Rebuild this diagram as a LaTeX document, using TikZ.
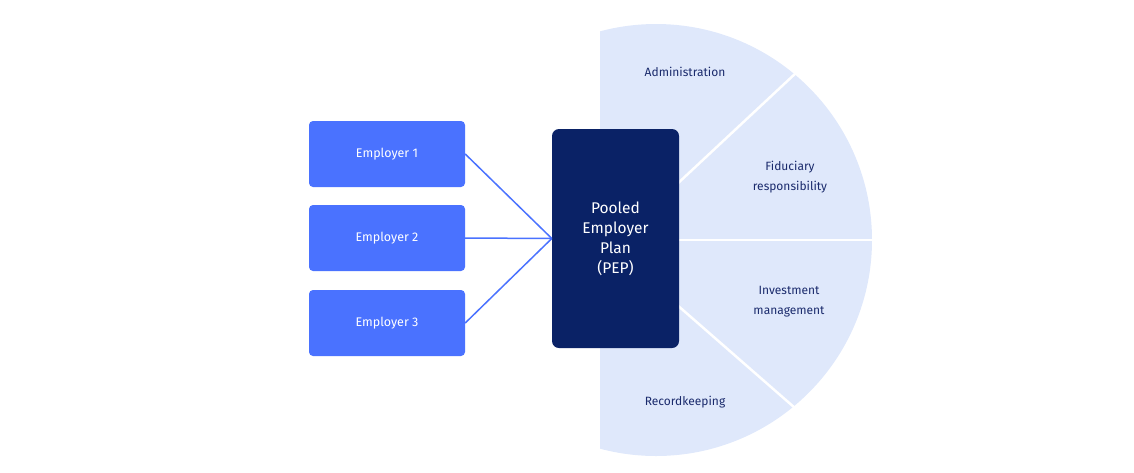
\documentclass[tikz,border=0pt]{standalone}
\usepackage{fontspec}
\setmainfont{Fira Sans}
\usetikzlibrary{positioning}
\definecolor{navy}{HTML}{0A2266}
\definecolor{empblue}{HTML}{4A72FF}
\definecolor{wedge}{HTML}{DFE8FB}
\definecolor{txtnavy}{HTML}{1A2A6C}
\tikzset{
  employer/.style={fill=empblue,rounded corners=4pt,minimum width=156pt,minimum height=66pt,
    text=white,font=\fontsize{12.5}{15}\selectfont},
  pep/.style={fill=navy,rounded corners=7pt,minimum width=127pt,minimum height=219pt,
    text=white,align=center,font=\fontsize{15.5}{20}\selectfont},
  duty/.style={text=txtnavy,align=center,font=\fontsize{12}{20}\selectfont},
  link/.style={draw=empblue,line width=1.5pt},
  divider/.style={draw=white,line width=2.5pt}
}
\begin{document}
\begin{tikzpicture}[x=1pt,y=-1pt]
\useasboundingbox (0,0) rectangle (1134,472);

\begin{scope}
\clip (600,0) rectangle (1134,472);
\fill[wedge] (656,240) circle[radius=216];
\end{scope}

\draw[divider] (660,200)--(797,72);
\draw[divider] (660,240)--(873,240);
\draw[divider] (660,290)--(795,408);

\node[duty] (admin) at (685,72) {Administration};
\node[duty] (fidu) at (790,177) {Fiduciary\\responsibility};
\node[duty] (invest) at (789,302) {Investment\\management};
\node[duty] (record) at (685,402) {Recordkeeping};

\node[pep] (pep) at (615.5,238.5) {Pooled\\Employer\\Plan\\(PEP)};

\node[employer] (emp1) at (387,154) {Employer 1};
\node[employer] (emp2) at (387,238) {Employer 2};
\node[employer] (emp3) at (387,323) {Employer 3};

\foreach \e in {emp1,emp2,emp3}
  \draw[link] (\e.east)--(pep.west);

\end{tikzpicture}
\end{document}
